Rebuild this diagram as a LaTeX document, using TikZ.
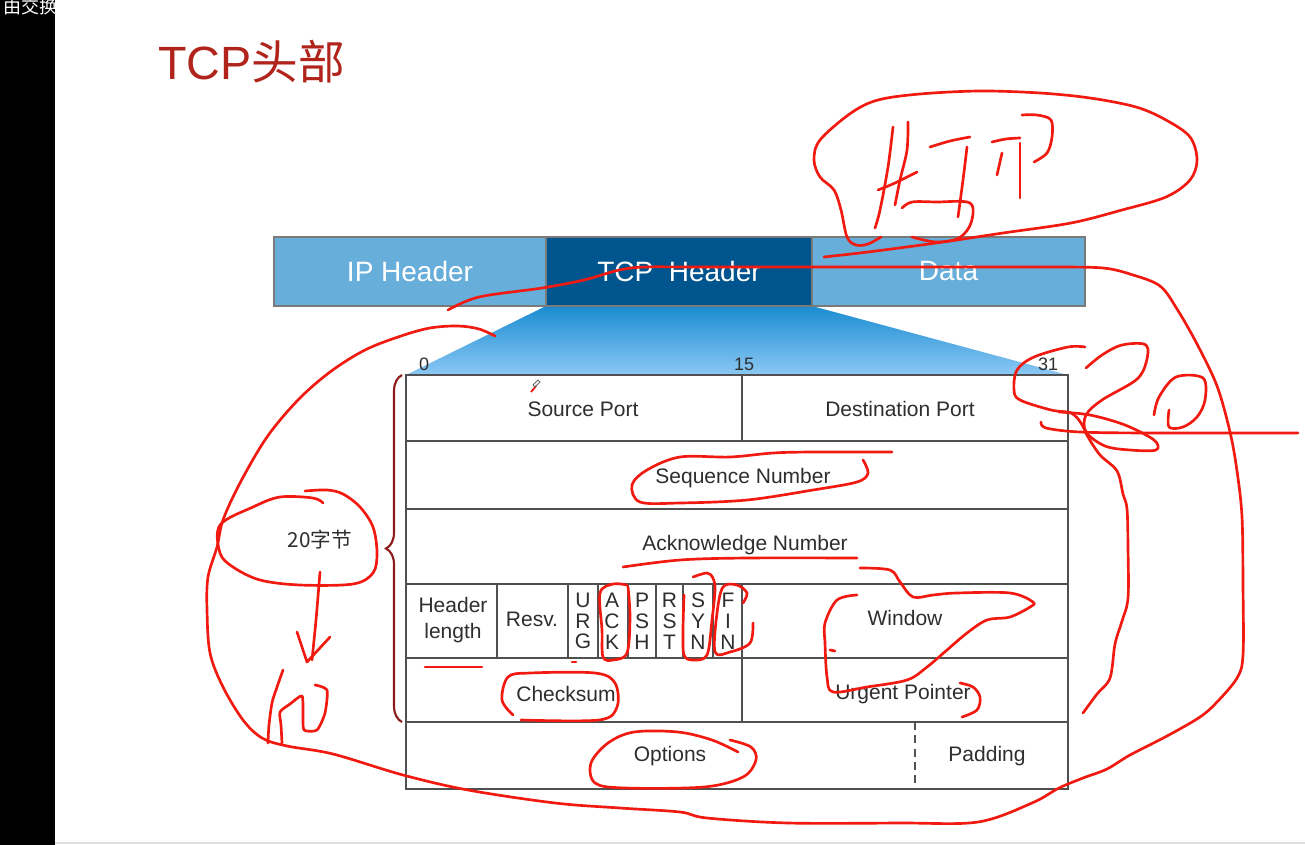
\documentclass[tikz,border=0pt]{standalone}
\usepackage{fontspec}
\setmainfont{Liberation Sans}
\newfontfamily\cjk{Noto Sans CJK SC}
\usetikzlibrary{decorations.pathreplacing}

\definecolor{ink}{HTML}{F01A10}
\definecolor{barlight}{HTML}{67AEDA}
\definecolor{bardark}{HTML}{00558F}
\definecolor{barborder}{HTML}{7A7A7A}
\definecolor{titlered}{HTML}{B0241B}
\definecolor{cellline}{HTML}{505050}
\definecolor{celltext}{HTML}{2E2E2E}
\definecolor{bracered}{HTML}{8E1C1C}
\definecolor{fantop}{HTML}{1A8CD0}
\definecolor{fanbottom}{HTML}{8CC8F5}

\begin{document}
\begin{tikzpicture}[x=0.75pt,y=-0.75pt,
  barcell/.style={draw=barborder, line width=1.5pt, text=white,
    font=\fontsize{21}{21}\selectfont, minimum height=51.75pt, inner sep=0pt},
  celltxt/.style={text=celltext, font=\fontsize{15.75}{15.75}\selectfont, inner sep=0pt, align=center},
  flagtxt/.style={text=celltext, font=\fontsize{15.75}{15.6}\selectfont, inner sep=0pt, align=center},
  bitnum/.style={text=celltext, font=\fontsize{13.5}{13.5}\selectfont, inner sep=0pt, anchor=base},
  grid/.style={draw=cellline, line width=1.1pt},
  pen/.style={draw=ink, line width=2pt, line cap=round, line join=round},
  smoothpen/.style={pen, smooth, tension=0.55}
]
\useasboundingbox (0,0) rectangle (1305,845);
\fill[white] (0,0) rectangle (1305,845);
\fill[black] (0,0) rectangle (55,845);
\draw[black!12, line width=1pt] (55,843) -- (1305,843);
\node[anchor=north east, text=white, font=\cjk\fontsize{13.5}{13.5}\selectfont, inner sep=0pt] (course) at (58,-2) {由交换};

% title
\node[anchor=base west, text=titlered, font=\fontsize{35}{35}\selectfont, inner sep=0pt] (title) at (158,80) {TCP{\cjk 头部}};

% fan from the TCP header down to the field table
\shade[top color=fantop, bottom color=fanbottom] (546,306) -- (812,306) -- (1068,375) -- (406,375) -- cycle;

% packet bar
\node[barcell, fill=barlight, minimum width=204pt] (ip) at (410,271.5) {IP Header};
\node[barcell, fill=bardark, minimum width=199.5pt] (tcp) at (679,271.5) {TCP\ \ Header};
\node[barcell, fill=barlight, minimum width=204.75pt] (data) at (948.5,271.5) {Data};

% bit positions
\node[bitnum] (b0) at (424,370) {0};
\node[bitnum] (b15) at (744,370) {15};
\node[bitnum] (b31) at (1048,370) {31};

% field table
\fill[white] (406,375) rectangle (1068,789);
\draw[grid] (406,375) rectangle (1068,789);
\foreach \yy in {441,509,584,658,722} \draw[grid] (406,\yy) -- (1068,\yy);
\draw[grid] (742,375) -- (742,441);
\foreach \xx in {497,568,598,628,656,683,713,742} \draw[grid] (\xx,584) -- (\xx,658);
\draw[grid] (742,658) -- (742,722);
\draw[grid, dashed, dash pattern=on 6pt off 4pt] (915,722) -- (915,789);

\node[celltxt] (src) at (583,409) {Source Port};
\node[celltxt] (dst) at (900,409) {Destination Port};
\node[celltxt] (seq) at (743,478) {Sequence Number};
\node[celltxt] (ack) at (745,545) {Acknowledge Number};
\node[celltxt, font=\fontsize{15.75}{19.5}\selectfont] (hlen) at (453,620) {Header\\length};
\node[celltxt] (resv) at (532,619) {Resv.};
\node[flagtxt] (furg) at (583,621) {U\\R\\G};
\node[flagtxt] (fack) at (612,621) {A\\C\\K};
\node[flagtxt] (fpsh) at (642,621) {P\\S\\H};
\node[flagtxt] (frst) at (669.5,621) {R\\S\\T};
\node[flagtxt] (fsyn) at (698,621) {S\\Y\\N};
\node[flagtxt] (ffin) at (728,621) {F\\I\\N};
\node[celltxt] (win) at (905,618) {Window};
\node[celltxt] (csum) at (566,694) {Checksum};
\node[celltxt] (urgp) at (903,694) {Urgent Pointer};
\node[celltxt] (opt) at (670,756) {Options};
\node[celltxt] (pad) at (987,756) {Padding};

% brace over the fixed part
\draw[bracered, line width=1.6pt, decorate, decoration={brace, amplitude=12pt}] (402,722) -- (402,375);
\node[text=celltext, font=\cjk\fontsize{15.5}{15.5}\selectfont, inner sep=0pt] (fixed) at (320,540) {20字节};

% pen cursor
\draw[ink, line width=1.4pt] (531,392) -- (536,386);
\draw[black!60, line width=0.6pt] (535,387) -- (540,382) -- (538,380) -- (533,385) -- cycle;

% ---- hand annotations ----
% long stroke: through the header bar, around the right side, under the table, up the left
\draw[smoothpen] plot coordinates {(448,310) (479,297) (542,288) (584,280) (631,268) (700,267) (850,267) (1000,267) (1050,267) (1103,268) (1133,275) (1160,286) (1177,309) (1197,344) (1217,386) (1230,432) (1237,471) (1242,517) (1243,586) (1243,655) (1237,678) (1217,702) (1200,717) (1167,736) (1130,755) (1107,769) (1083,778) (1059,788) (1032,803) (978,822) (900,823) (788,823) (707,818) (680,812) (620,808) (555,803) (468,790) (403,775) (333,754) (287,746) (262,738) (243,720) (223,687) (210,653) (207,610) (208,577) (217,547) (223,520) (240,483) (267,437) (298,400) (330,372) (365,350) (401,336) (430,328) (458,326) (479,329) (495,336)};

% ring around the byte count, arrow and note
\draw[smoothpen] plot coordinates {(305,491) (327,490) (343,494) (360,507) (373,527) (377,553) (373,573) (353,584) (300,585) (260,580) (233,567) (220,553) (220,525) (253,507) (280,497) (313,498) (323,503)};
\draw[smoothpen] plot coordinates {(320,572) (316,620) (312,660)};
\draw[pen] (297,632) -- (307,662) -- (330,637);
\draw[smoothpen] plot coordinates {(283,670) (276,690) (272,703) (269,725) (268,743)};
\draw[pen] plot[smooth, tension=0.4] coordinates {(282,743) (281,725) (280,712) (290,704) (302,696) (303,715) (304,730) (317,730) (325,713) (327,690) (315,685)};

% cloud with letters above the data block
\draw[smoothpen] plot coordinates {(881,237) (868,244) (856,245) (847,237) (841,210) (834,190) (820,177) (814,160) (820,140) (851,113) (878,100) (920,94) (980,91) (1040,93) (1090,98) (1136,107) (1166,120) (1190,137) (1197,160) (1190,180) (1166,197) (1122,210) (1071,223) (1003,233) (936,243) (868,252) (824,257)};
\draw[smoothpen] plot coordinates {(893,127) (888,167) (880,210) (875,228)};
\draw[smoothpen] plot coordinates {(908,122) (907,150) (900,180) (895,205)};
\draw[smoothpen] plot coordinates {(878,190) (895,183) (917,172)};
\draw[smoothpen] plot coordinates {(930,147) (950,141) (970,137)};
\draw[smoothpen] plot coordinates {(967,147) (963,180) (958,217)};
\draw[smoothpen] plot coordinates {(902,208) (912,202) (936,202) (970,203) (971,223) (959,238) (936,242) (912,237)};
\draw[smoothpen] plot coordinates {(992,142) (1006,139) (1020,138)};
\draw[smoothpen] plot coordinates {(1020,143) (1020,167) (1020,198)};
\draw[smoothpen] plot coordinates {(1002,153) (997,175)};
\draw[smoothpen] plot coordinates {(1022,115) (1037,115) (1051,120) (1052,137) (1047,153) (1034,162)};

% loop around bit 31, the figure 20, and the inner right curve
\draw[smoothpen] plot coordinates {(1085,347) (1068,347) (1034,357) (1017,370) (1014,390) (1020,400) (1051,410) (1071,413) (1081,423) (1088,437) (1100,455) (1117,471) (1123,494) (1127,509) (1128,548) (1128,598) (1122,621) (1115,644) (1110,678) (1097,694) (1083,713)};
\draw[smoothpen] plot coordinates {(1086,368) (1102,355) (1122,345) (1146,345) (1146,363) (1136,380) (1102,400) (1086,415) (1086,432) (1105,446) (1130,450) (1156,450) (1154,440) (1125,425) (1090,415) (1059,412)};
\draw[smoothpen] plot coordinates {(1041,422) (1046,428) (1080,432) (1149,433) (1298,433)};
\draw[smoothpen] plot coordinates {(1154,415) (1159,397) (1176,377) (1203,378) (1205,400) (1197,417) (1183,427) (1169,427) (1169,410)};

% marks on the fields
\draw[smoothpen] plot coordinates {(892,452) (813,452) (773,453) (730,457) (680,457) (647,470) (632,485) (640,502) (680,503) (747,500) (813,490) (857,482) (868,473) (863,460)};
\draw[smoothpen] plot coordinates {(623,567) (680,560) (747,558) (857,558)};
\draw[smoothpen] plot coordinates {(860,568) (890,570) (900,582) (913,597) (933,595) (957,593) (1010,593) (1033,602) (1030,607) (1010,617) (987,620) (967,633) (947,650) (927,667) (907,680) (867,687) (833,692) (827,677) (825,643) (825,623) (837,600) (857,595)};
\draw[pen] (830,650) -- (835,651);
\draw[smoothpen] plot coordinates {(960,683) (973,687) (980,697) (977,710) (962,717)};
\draw[smoothpen] plot coordinates {(627,585) (613,584) (600,593) (602,630) (603,657) (613,660) (627,653) (630,617) (628,587)};
\draw[smoothpen] plot coordinates {(693,577) (707,573) (713,578) (715,590) (712,620) (707,655) (693,660) (684,655) (683,630) (684,595)};
\draw[smoothpen] plot coordinates {(743,603) (747,593) (737,585) (723,587) (717,613) (715,652) (730,652) (750,643) (753,623)};
\draw[pen] (425,667) -- (482,667);
\draw[pen] (572,662) -- (576,662);
\draw[smoothpen] plot coordinates {(513,715) (502,700) (508,677) (530,673) (595,673) (615,683) (617,707) (599,720) (521,720)};
\draw[smoothpen] plot coordinates {(738,752) (712,740) (678,732) (634,732) (608,743) (591,763) (595,783) (625,788) (704,787) (743,777) (756,760) (751,747) (730,740)};
\end{tikzpicture}
\end{document}
